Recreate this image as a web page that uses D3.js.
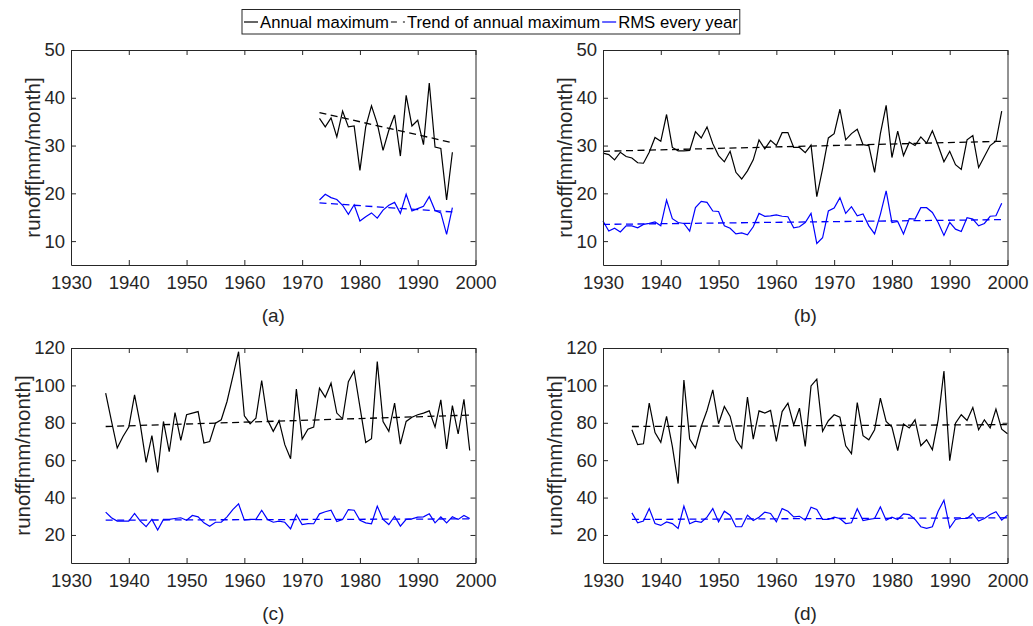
<!DOCTYPE html>
<html>
<head>
<meta charset="utf-8">
<title>Runoff annual maximum and RMS</title>
<script src="https://d3js.org/d3.v7.min.js"></script>
<style>
  body { margin: 0; background: #fff; }
  text { font-family: "Liberation Sans", Arial, Helvetica, sans-serif; }
</style>
</head>
<body>
<div id="chart"></div>
<script>
// ---- data ----
var panelNames = ["(a)", "(b)", "(c)", "(d)"];
var firstYears = [1973, 1930, 1936, 1935];

var maxA = [35.7, 33.9, 35.8, 31.8, 37.2, 33.9, 34.1, 24.8, 33.9, 38.3, 34.6, 29.0,
            33.2, 36.4, 27.8, 40.5, 34.1, 35.3, 30.2, 43.1, 29.7, 29.4, 18.6, 28.6];
var rmsA = [18.6, 19.8, 19.1, 18.7, 17.5, 15.6, 17.6, 14.2, 15.1, 15.9, 14.8, 16.5,
            17.5, 18.1, 15.8, 19.8, 16.3, 16.8, 17.3, 19.3, 16.4, 15.9, 11.4, 17.0];

var maxB = [28.4, 28.1, 27.0, 28.6, 27.7, 27.4, 26.4, 26.3, 28.6, 31.7, 30.9, 36.5,
            29.6, 28.9, 28.9, 29.0, 32.9, 31.6, 33.9, 30.4, 27.9, 26.6, 28.8, 24.4,
            23.0, 24.7, 27.0, 31.2, 29.3, 31.1, 30.0, 32.7, 32.7, 29.6, 29.6, 28.5,
            30.1, 19.3, 25.1, 31.6, 32.5, 37.6, 31.2, 32.5, 33.4, 30.2, 30.0, 24.4,
            32.5, 38.4, 27.5, 33.0, 27.9, 30.7, 30.0, 31.8, 30.5, 33.1, 30.0, 26.6,
            28.8, 26.0, 25.0, 31.2, 32.1, 25.4, 27.7, 30.0, 30.9, 37.2];
var rmsB = [14.2, 12.1, 12.7, 11.9, 13.2, 13.2, 12.8, 13.5, 13.7, 14.0, 13.2, 18.6,
            14.7, 13.9, 13.7, 12.1, 17.0, 18.3, 18.1, 16.3, 16.2, 13.2, 12.7, 11.5,
            11.7, 11.3, 13.0, 15.8, 15.2, 15.3, 15.5, 15.2, 15.1, 12.8, 13.0, 13.9,
            15.8, 9.5, 10.7, 16.3, 16.9, 19.1, 15.8, 17.2, 15.3, 15.7, 13.2, 11.5,
            15.6, 20.5, 13.9, 14.1, 11.5, 14.7, 14.6, 17.0, 17.0, 16.0, 13.9, 11.2,
            13.9, 12.5, 12.0, 14.9, 14.6, 13.2, 13.7, 15.2, 15.3, 17.9];

var maxC = [95.8, 81.0, 66.5, 72.7, 77.7, 94.9, 78.9, 58.8, 73.1, 53.5, 80.7, 64.5,
            85.5, 70.6, 84.3, 85.2, 86.0, 69.2, 70.0, 79.8, 81.6, 91.4, 104.7, 118.0,
            83.7, 79.5, 82.5, 102.6, 81.6, 75.4, 81.1, 68.3, 60.8, 98.0, 71.3, 76.6,
            77.7, 98.5, 93.7, 101.2, 85.2, 82.1, 102.0, 107.7, 88.5, 69.5, 71.5, 112.7,
            80.7, 75.4, 90.5, 68.6, 80.7, 83.0, 84.3, 85.2, 86.4, 77.7, 92.3, 66.0,
            89.2, 74.0, 92.6, 65.2];
var rmsC = [32.2, 29.2, 27.4, 27.4, 27.4, 31.5, 27.4, 24.4, 28.3, 22.6, 28.3, 28.3,
            28.8, 29.2, 27.9, 30.4, 29.7, 26.5, 24.7, 26.8, 26.8, 29.7, 33.6, 36.6,
            27.9, 28.3, 28.3, 33.2, 28.3, 26.8, 27.4, 26.8, 23.3, 30.9, 25.6, 26.1,
            26.0, 31.3, 32.4, 33.2, 27.2, 28.3, 33.6, 33.2, 27.9, 26.5, 26.0, 35.4,
            28.3, 25.6, 30.0, 24.7, 28.3, 28.6, 29.5, 29.7, 31.3, 26.5, 29.7, 26.5,
            29.7, 28.3, 30.4, 28.8];

var maxD = [76.3, 68.3, 68.8, 90.5, 74.8, 69.5, 83.4, 67.4, 47.5, 102.9, 71.3, 66.5,
            78.0, 86.6, 97.6, 79.5, 88.7, 83.4, 70.9, 66.5, 93.7, 71.3, 86.4, 85.2,
            86.6, 70.0, 86.0, 90.5, 78.9, 87.8, 67.4, 99.7, 103.3, 75.4, 81.1, 84.3,
            83.0, 67.7, 63.5, 90.8, 73.1, 70.9, 76.3, 93.2, 80.7, 77.7, 65.1, 79.3,
            77.2, 81.6, 67.7, 70.9, 65.6, 81.6, 107.7, 59.7, 79.8, 84.3, 81.2, 88.2,
            76.3, 81.6, 77.2, 87.3, 76.6, 74.1];
var rmsD = [31.8, 26.5, 27.4, 34.1, 26.1, 25.1, 27.0, 26.1, 23.5, 35.4, 26.0, 27.4,
            26.8, 29.5, 34.1, 27.0, 32.7, 30.6, 24.4, 24.4, 30.6, 27.7, 29.5, 32.2,
            31.5, 27.0, 34.1, 32.7, 29.7, 30.0, 27.9, 34.8, 33.6, 28.3, 28.3, 29.5,
            28.8, 26.1, 26.5, 34.0, 27.7, 28.3, 28.8, 35.0, 27.9, 29.5, 28.3, 31.3,
            30.9, 28.3, 24.4, 23.5, 24.4, 32.7, 38.6, 23.8, 28.3, 28.8, 28.8, 31.5,
            27.4, 28.8, 30.9, 32.4, 27.9, 30.6];

// trend lines: value at first and last year
var trendMax = [[36.9, 30.6], [28.8, 30.9], [78.0, 84.1], [78.0, 79.0]];
var trendRms = [[18.0, 16.1], [13.5, 14.5], [27.9, 28.6], [28.3, 29.2]];

var xTicks = [1930, 1940, 1950, 1960, 1970, 1980, 1990, 2000];
var yTicksTop = [10, 20, 30, 40, 50];
var yTicksBottom = [20, 40, 60, 80, 100, 120];

var legendNames = ["Annual maximum", "Trend of annual maximum", "RMS every year"];

// ---- layout ----
var W = 1033, H = 626;
var axColor = "#262626";
var panels = [
  {left: 71,  top: 50,  max: maxA, rms: rmsA, yDom: [5, 50],  yTicks: yTicksTop,    labOff: 39},
  {left: 603, top: 50,  max: maxB, rms: rmsB, yDom: [5, 50],  yTicks: yTicksTop,    labOff: 39},
  {left: 71,  top: 348, max: maxC, rms: rmsC, yDom: [5, 120], yTicks: yTicksBottom, labOff: 49},
  {left: 603, top: 348, max: maxD, rms: rmsD, yDom: [5, 120], yTicks: yTicksBottom, labOff: 49}
];
var pw = 404.5, ph = 215;

var svg = d3.select("#chart").append("svg")
    .attr("width", W)
    .attr("height", H);

panels.forEach(function(p, i) {
  var g = svg.append("g").attr("transform", "translate(" + p.left + "," + p.top + ")");
  var x = d3.scaleLinear().domain([1930, 2000]).range([0, pw]);
  var y = d3.scaleLinear().domain(p.yDom).range([ph, 0]);
  var y0 = firstYears[i];

  var line = d3.line()
      .x(function(d, k) { return x(y0 + k); })
      .y(function(d) { return y(d); });
  var trendLine = d3.line()
      .x(function(d, k) { return x(k == 0 ? y0 : y0 + p.max.length - 1); })
      .y(function(d) { return y(d); });

  // series
  g.append("path").attr("d", line(p.max))
      .attr("fill", "none").attr("stroke", "#000").attr("stroke-width", 1.2);
  g.append("path").attr("d", trendLine(trendMax[i]))
      .attr("fill", "none").attr("stroke", "#000").attr("stroke-width", 1.3)
      .attr("stroke-dasharray", "7,4.5");
  g.append("path").attr("d", line(p.rms))
      .attr("fill", "none").attr("stroke", "#0000ff").attr("stroke-width", 1.2);
  g.append("path").attr("d", trendLine(trendRms[i]))
      .attr("fill", "none").attr("stroke", "#0000ff").attr("stroke-width", 1.3)
      .attr("stroke-dasharray", "7,4.5");

  // axes (box with inward ticks)
  var ax = [
    g.append("g").attr("transform", "translate(0," + ph + ")")
      .call(d3.axisBottom(x).tickValues(xTicks).tickFormat(d3.format("d"))
        .tickSizeInner(-5).tickSizeOuter(0).tickPadding(11)),
    g.append("g")
      .call(d3.axisTop(x).tickValues(xTicks).tickFormat("")
        .tickSizeInner(-5).tickSizeOuter(0)),
    g.append("g")
      .call(d3.axisLeft(y).tickValues(p.yTicks).tickFormat(d3.format("d"))
        .tickSizeInner(-5).tickSizeOuter(0).tickPadding(6)),
    g.append("g").attr("transform", "translate(" + pw + ",0)")
      .call(d3.axisRight(y).tickValues(p.yTicks).tickFormat("")
        .tickSizeInner(-5).tickSizeOuter(0))
  ];
  ax.forEach(function(a) {
    a.select(".domain").attr("stroke", axColor).attr("stroke-width", 1);
    a.selectAll(".tick line").attr("stroke", axColor).attr("stroke-width", 1);
    a.selectAll(".tick text").attr("fill", axColor)
      .style("font-size", "18.5px");
  });

  // y label
  g.append("text")
      .attr("transform", "translate(" + (-p.labOff) + "," + (ph / 2) + ") rotate(-90)")
      .attr("text-anchor", "middle")
      .attr("dominant-baseline", "central")
      .attr("fill", axColor)
      .style("font-size", "20.5px")
      .text("runoff[mm/month]");

  // panel label
  g.append("text")
      .attr("x", pw / 2)
      .attr("y", ph + 50)
      .attr("text-anchor", "middle")
      .attr("dominant-baseline", "central")
      .attr("fill", axColor)
      .style("font-size", "19px")
      .text(panelNames[i]);
});

// ---- legend ----
var leg = svg.append("g");
var legColors = ["#000", "#000", "#0000ff"];
var legDash = [null, "6,6", null];
var lx = 244, ly = 22;
var legBox = leg.append("rect")
    .attr("x", 242).attr("y", 9.5).attr("height", 24.5)
    .attr("fill", "#fff").attr("stroke", axColor).attr("stroke-width", 1);
legendNames.forEach(function(name, i) {
  leg.append("line")
      .attr("x1", lx).attr("x2", lx + 14).attr("y1", ly).attr("y2", ly)
      .attr("stroke", legColors[i]).attr("stroke-width", 1.2)
      .attr("stroke-dasharray", legDash[i]);
  var t = leg.append("text")
      .attr("x", lx + 16).attr("y", ly)
      .attr("dominant-baseline", "central")
      .attr("fill", "#000")
      .style("font-size", "16.7px")
      .text(name);
  lx = lx + 16 + t.node().getComputedTextLength() + 2;
});
legBox.attr("width", lx - 242);
</script>
</body>
</html>
